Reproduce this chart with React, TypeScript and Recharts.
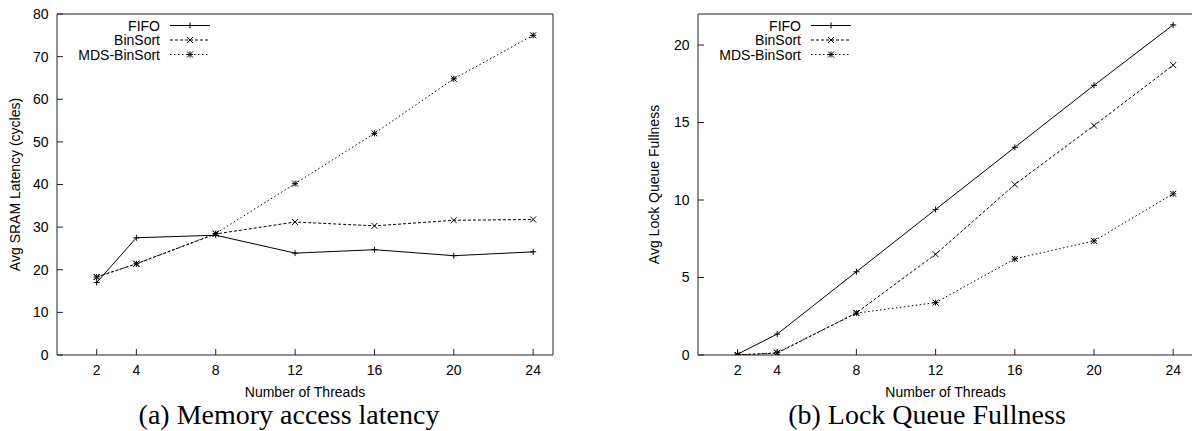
import { Legend, Line, LineChart, XAxis, YAxis } from "recharts";

const threads = [2, 4, 8, 12, 16, 20, 24];

// (a) average SRAM latency, cycles
const fifoLatency = [17.0, 27.5, 28.1, 23.9, 24.7, 23.3, 24.2];
const binSortLatency = [18.3, 21.4, 28.4, 31.2, 30.3, 31.6, 31.8];
const mdsLatency = [18.3, 21.4, 28.5, 40.2, 52.0, 64.8, 75.0];

// (b) average lock queue fullness
const fifoFullness = [0.05, 1.35, 5.37, 9.39, 13.4, 17.4, 21.3];
const binSortFullness = [0.0, 0.12, 2.72, 6.5, 11.0, 14.8, 18.7];
const mdsFullness = [0.0, 0.15, 2.7, 3.38, 6.2, 7.36, 10.4];

const xTicks = [2, 4, 8, 12, 16, 20, 24];
const latencyTicks = [0, 10, 20, 30, 40, 50, 60, 70, 80];
const fullnessTicks = [0, 5, 10, 15, 20];

const seriesNames = ["FIFO", "BinSort", "MDS-BinSort"];

const SANS = "'Liberation Sans', Arial, Helvetica, sans-serif";
const SERIF = "'Liberation Serif', 'Times New Roman', serif";
const AXIS = "#222";

type Shape = "plus" | "cross" | "star";

const series: { key: string; shape: Shape; dash?: string; color: string }[] = [
  { key: "fifo", shape: "plus", color: "#000" },
  { key: "binsort", shape: "cross", dash: "3 2", color: "#000" },
  { key: "mds", shape: "star", dash: "1.5 2.5", color: "#000" },
];

const toRows = (a: number[], b: number[], c: number[]) =>
  threads.map((t, i) => ({ threads: t, fifo: a[i], binsort: b[i], mds: c[i] }));

const markerPath = (cx: number, cy: number, shape: Shape) => {
  const r = 3;
  const plus = `M${cx - r},${cy}H${cx + r}M${cx},${cy - r}V${cy + r}`;
  const cross = `M${cx - r},${cy - r}L${cx + r},${cy + r}M${cx + r},${cy - r}L${cx - r},${cy + r}`;
  if (shape === "plus") return plus;
  if (shape === "cross") return cross;
  return plus + cross;
};

const LegendBox = () => (
  <svg width={170} height={70} style={{ overflow: "visible" }}>
    {series.map((s, i) => {
      const cy = 25.5 + i * 14.5;
      return (
        <g key={s.key}>
          <text x={110} y={cy + 5} textAnchor="end" fontFamily={SANS} fontSize={14} fill="#000">
            {seriesNames[i]}
          </text>
          <line x1={120} x2={160} y1={cy} y2={cy} stroke={s.color} strokeDasharray={s.dash} />
          <path d={markerPath(140, cy, s.shape)} stroke={s.color} fill="none" />
        </g>
      );
    })}
  </svg>
);

type PanelProps = {
  left: number;
  rows: ReturnType<typeof toRows>;
  yMax: number;
  yTicks: number[];
  marginLeft: number;
  marginRight: number;
};

const Panel = ({ left, rows, yMax, yTicks, marginLeft, marginRight }: PanelProps) => {
  const tickStyle = { fontFamily: SANS, fontSize: 14, fill: "#000" };
  return (
    <div style={{ position: "absolute", left, top: 0, width: 600, height: 431 }}>
      <LineChart
        width={600}
        height={431}
        data={rows}
        margin={{ top: 13, right: marginRight, bottom: 46, left: marginLeft }}
      >
        <XAxis
          dataKey="threads"
          type="number"
          domain={[0, 25]}
          ticks={xTicks}
          allowDataOverflow
          height={30}
          stroke={AXIS}
          tickSize={-6}
          tickMargin={16}
          tick={tickStyle}
        />
        <XAxis
          xAxisId="top"
          orientation="top"
          type="number"
          domain={[0, 25]}
          ticks={xTicks}
          allowDataOverflow
          height={1}
          stroke={AXIS}
          tickSize={-6}
          tick={false}
        />
        <YAxis
          type="number"
          domain={[0, yMax]}
          ticks={yTicks}
          allowDataOverflow
          width={40}
          stroke={AXIS}
          tickSize={-6}
          tickMargin={14.5}
          tick={tickStyle}
        />
        <YAxis
          yAxisId="right"
          orientation="right"
          type="number"
          domain={[0, yMax]}
          ticks={yTicks}
          allowDataOverflow
          width={1}
          stroke={AXIS}
          tickSize={-6}
          tick={false}
        />
        <Legend
          layout="vertical"
          align="center"
          verticalAlign="middle"
          content={() => <LegendBox />}
          wrapperStyle={{ top: 0, left: marginLeft + 40 - 7, width: 170, height: 70 }}
        />
        {series.map((s, i) => (
          <Line
            key={s.key}
            name={seriesNames[i]}
            dataKey={s.key}
            type="linear"
            stroke={s.color}
            strokeWidth={1}
            strokeDasharray={s.dash}
            isAnimationActive={false}
            activeDot={false}
            dot={(p: any) => (
              <path
                key={`${s.key}-${p.index}`}
                d={markerPath(p.cx, p.cy, s.shape)}
                stroke={s.color}
                strokeWidth={1}
                fill="none"
              />
            )}
          />
        ))}
      </LineChart>
    </div>
  );
};

export default function App() {
  return (
    <div
      style={{
        position: "absolute",
        left: 0,
        top: 0,
        width: 1192,
        height: 431,
        overflow: "hidden",
        background: "#fff",
      }}
    >
      <Panel
        left={0}
        rows={toRows(fifoLatency, binSortLatency, mdsLatency)}
        yMax={80}
        yTicks={latencyTicks}
        marginLeft={17}
        marginRight={46}
      />
      <Panel
        left={600}
        rows={toRows(fifoFullness, binSortFullness, mdsFullness)}
        yMax={22}
        yTicks={fullnessTicks}
        marginLeft={58}
        marginRight={6}
      />
      <svg
        width={1192}
        height={431}
        style={{ position: "absolute", left: 0, top: 0, pointerEvents: "none" }}
      >
        <text
          transform="translate(15,184.5) rotate(-90)"
          textAnchor="middle"
          dominantBaseline="central"
          fontFamily={SANS}
          fontSize={14}
        >
          Avg SRAM Latency (cycles)
        </text>
        <text
          transform="translate(654,184.5) rotate(-90)"
          textAnchor="middle"
          dominantBaseline="central"
          fontFamily={SANS}
          fontSize={14}
        >
          Avg Lock Queue Fullness
        </text>
        <text x={305} y={397} textAnchor="middle" fontFamily={SANS} fontSize={14}>
          Number of Threads
        </text>
        <text x={945.5} y={397} textAnchor="middle" fontFamily={SANS} fontSize={14}>
          Number of Threads
        </text>
        <text x={289} y={424} textAnchor="middle" fontFamily={SERIF} fontSize={28}>
          (a) Memory access latency
        </text>
        <text x={927} y={424} textAnchor="middle" fontFamily={SERIF} fontSize={28}>
          (b) Lock Queue Fullness
        </text>
      </svg>
    </div>
  );
}
